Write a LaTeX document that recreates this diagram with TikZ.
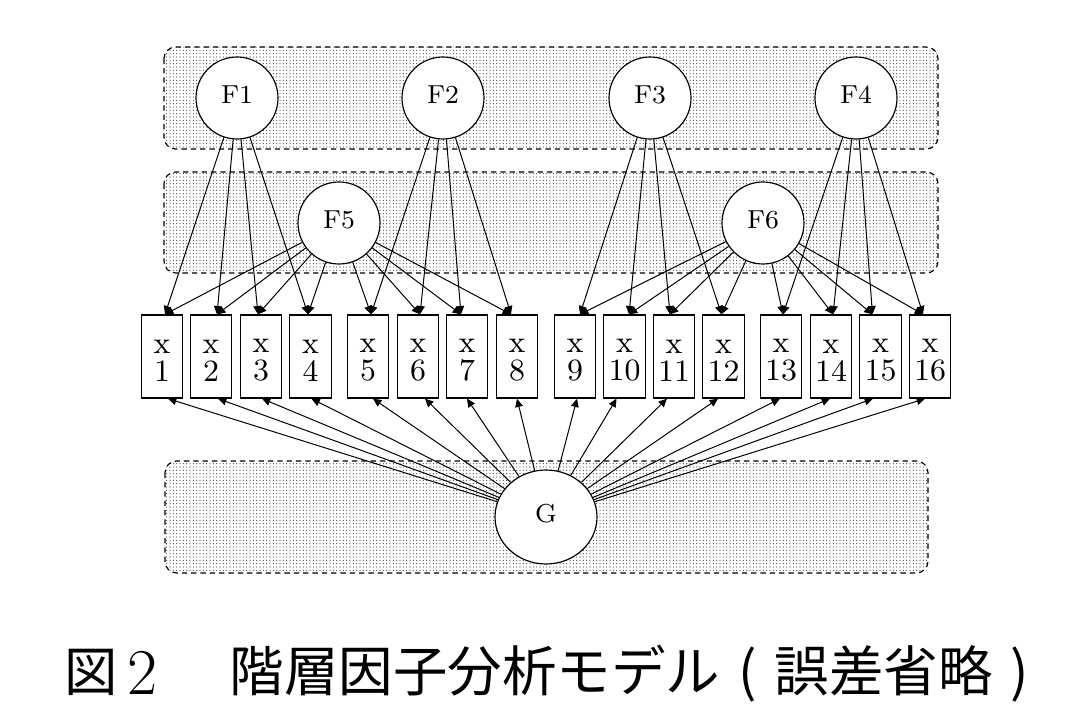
\documentclass[tikz,border=0pt]{standalone}
\usepackage{fontspec}
\newfontfamily\cjk{Noto Sans CJK JP}
\usetikzlibrary{arrows.meta,shapes.geometric,patterns.meta,calc}
\tikzdeclarepattern{
  name=gvdots,
  type=uncolored,
  bounding box={(-0.5pt,-0.5pt) and (0.5pt,0.5pt)},
  tile size={(1pt,1pt)},
  code={\pgfpathcircle{\pgfpointorigin}{0.16pt}\pgfusepath{fill}}
}
\begin{document}
\begin{tikzpicture}[x=0.3pt,y=-0.3pt,
  cluster/.style={draw=black, line width=0.35pt, dash pattern=on 1.6pt off 1.2pt,
    rounded corners=3.5pt, pattern=gvdots, pattern color=black!85},
  fac/.style={circle, draw, fill=white, line width=0.35pt, minimum size=24.6pt,
    inner sep=0pt, font=\fontsize{7.8}{9}\selectfont, text depth=1.8pt},
  gen/.style={ellipse, draw, fill=white, line width=0.35pt, minimum width=30.6pt,
    minimum height=28.2pt, inner sep=0pt, font=\fontsize{7.8}{9}\selectfont, text depth=2.4pt},
  obs/.style={rectangle, draw, line width=0.4pt, minimum width=12.45pt,
    minimum height=24.9pt, inner sep=0pt, align=center, font=\fontsize{9.3}{8.3}\selectfont},
  arr/.style={line width=0.3pt, -{Triangle[length=2.5pt,width=2.3pt]}},
  captext/.style={anchor=base west, inner sep=0pt}
]
\useasboundingbox (0,0) rectangle (1067,707);

% clusters
\draw[cluster] (164,47) rectangle (938,149);
\draw[cluster] (164,172) rectangle (938,273);
\draw[cluster] (165,461) rectangle (928,573);

% latent factors
\node[fac] (F1) at (237,98) {F1};
\node[fac] (F2) at (443,98) {F2};
\node[fac] (F3) at (650,98) {F3};
\node[fac] (F4) at (856,98) {F4};
\node[fac] (F5) at (339,223) {F5};
\node[fac] (F6) at (763,223) {F6};
\node[gen] (G) at (546,517) {G};

% observed variables
\foreach \i/\xx in {1/162,2/211,3/261,4/310.5,5/368,6/418,7/467,8/517,
                    9/575,10/624.5,11/674,12/723.5,13/781,14/831,15/880.5,16/930}
  \node[obs] (x\i) at (\xx,356.5) {\rule{0pt}{6.4pt}x\\\i};

% connector end points on the boxes
\foreach \i/\t/\b in {1/3/6,2/6/7,3/-3/1,4/-2.5/1,5/3/5,6/2/7,7/-6/0,8/-6/0,
                      9/5/2,10/4.5/-8,11/-4/-7,12/-2/-5.5,13/2/-1,14/2/-1,15/-8/-7.5,16/-7/-5}{
  \coordinate (t\i) at ($(x\i.north)+(\t,0)$);
  \coordinate (b\i) at ($(x\i.south)+(\b,0)$);
}

% loadings
\foreach \i in {1,...,4} \draw[arr] (F1) -- (t\i);
\foreach \i in {5,...,8} \draw[arr] (F2) -- (t\i);
\foreach \i in {9,...,12} \draw[arr] (F3) -- (t\i);
\foreach \i in {13,...,16} \draw[arr] (F4) -- (t\i);
\foreach \i in {1,...,8} \draw[arr] (F5) -- (t\i);
\foreach \i in {9,...,16} \draw[arr] (F6) -- (t\i);
\foreach \i in {1,...,16} \draw[arr] (G) -- (b\i);

% caption
\node[anchor=base, inner sep=0pt, font=\cjk\fontsize{16}{18}\selectfont] (capfig) at (91,691) {図};
\node[captext, font=\fontsize{19.6}{22}\selectfont] (capnum) at (127,694) {2};
\node[captext, font=\cjk\fontsize{16.35}{18}\selectfont] (captitle) at (229,691)
  {階層因子分析モデル\makebox[1em][c]{(}誤差省略\makebox[1em][c]{)}};
\end{tikzpicture}
\end{document}
